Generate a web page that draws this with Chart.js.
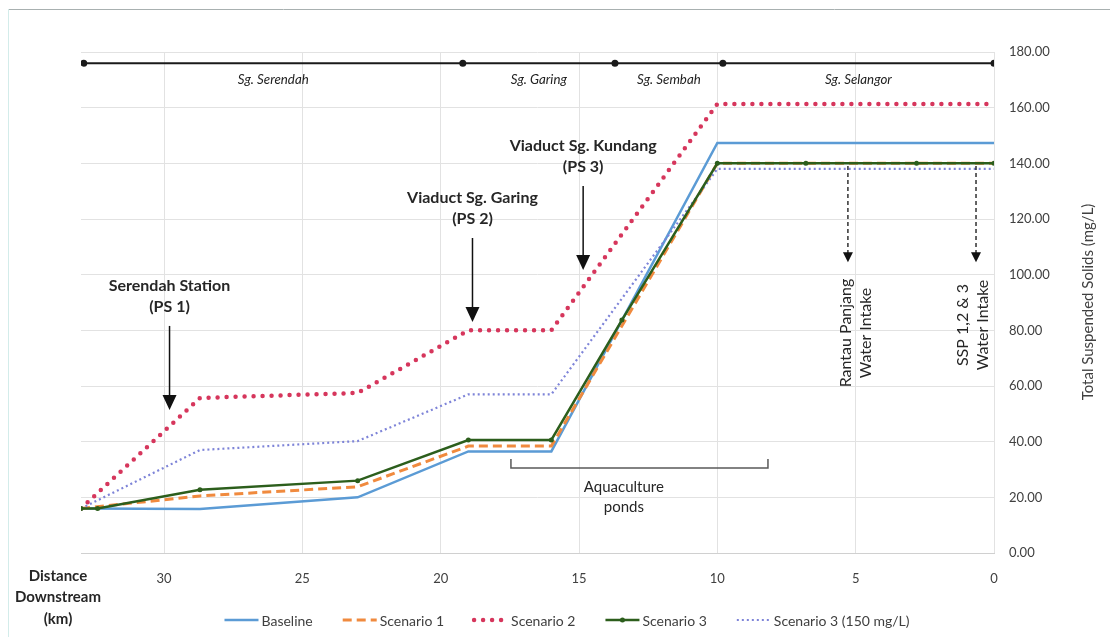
<!DOCTYPE html>
<html>
<head>
<meta charset="utf-8">
<script src="https://cdn.jsdelivr.net/npm/chart.js@4.4.1/dist/chart.umd.min.js"></script>
<style>
  html, body { margin: 0; padding: 0; background: #fff; }
  #wrap { position: relative; width: 1110px; height: 637px; }
</style>
</head>
<body>
<div id="wrap"><canvas id="tss" width="1110" height="637"></canvas></div>
<script>
// distance downstream (km) and TSS (mg/L)
const distX = [33, 28.7, 23, 19, 16, 10, 0];
const baseline = [16, 15.8, 20, 36.5, 36.5, 147.3, 147.3];
const scenario1 = [16, 20.5, 23.8, 38.4, 38.4, 140, 140];
const scenario2 = [16, 55.7, 57.5, 80, 80, 161.3, 161.3];
const scenario3b = [16, 37, 40.2, 57, 57, 138, 138];

const scen3X = [33, 32.4, 28.7, 23, 19, 16, 13.45, 10, 6.8, 2.8, 0];
const scenario3 = [16, 16, 22.7, 26, 40.6, 40.6, 83.7, 140, 140, 140, 140];

const xTicks = [30, 25, 20, 15, 10, 5, 0];

// river reaches along the top
const riverX = [32.9, 19.2, 13.7, 9.8, 0];
const riverY = 176;
const riverNames = ['Sg. Serendah', 'Sg. Garing', 'Sg. Sembah', 'Sg. Selangor'];

const pumpStations = [
  {x: 29.8, tip: 51.4, lines: ['Serendah Station', '(PS 1)']},
  {x: 18.85, tip: 83, lines: ['Viaduct Sg. Garing', '(PS 2)']},
  {x: 14.85, tip: 101.7, lines: ['Viaduct Sg. Kundang', '(PS 3)']},
];
const intakes = [
  {x: 5.28, textX: 5.0, lines: ['Rantau Panjang', 'Water Intake'], mid: 333},
  {x: 0.65, textX: 0.76, lines: ['SSP 1,2 & 3', 'Water Intake'], mid: 325},
];

const FONT = 'Lato, "Open Sans", sans-serif';

function pts(xs, ys) {
  return xs.map((v, i) => ({x: v, y: ys[i]}));
}

function downArrow(ctx, px, yTop, yTip, dashed, hw, hh) {
  ctx.save();
  ctx.strokeStyle = '#111';
  ctx.fillStyle = '#111';
  ctx.lineWidth = dashed ? 1.3 : 1.5;
  ctx.setLineDash(dashed ? [4, 3] : []);
  ctx.beginPath();
  ctx.moveTo(px, yTop);
  ctx.lineTo(px, yTip - hh + 1);
  ctx.stroke();
  ctx.setLineDash([]);
  ctx.beginPath();
  ctx.moveTo(px - hw, yTip - hh);
  ctx.lineTo(px + hw, yTip - hh);
  ctx.lineTo(px, yTip);
  ctx.closePath();
  ctx.fill();
  ctx.restore();
}

const annot = {
  id: 'annot',
  afterDraw(chart) {
    const {ctx, scales: {x, y}} = chart;
    ctx.save();

    // frame
    ctx.strokeStyle = '#a8b0b0';
    ctx.lineWidth = 1;
    ctx.beginPath(); ctx.moveTo(8, 9.5); ctx.lineTo(1110, 9.5); ctx.stroke();
    ctx.strokeStyle = '#d3ecea';
    ctx.beginPath(); ctx.moveTo(8.5, 9); ctx.lineTo(8.5, 637); ctx.stroke();

    // river names
    ctx.fillStyle = '#222';
    ctx.font = 'italic 13.3px ' + FONT;
    ctx.textAlign = 'center';
    ctx.textBaseline = 'middle';
    const ry = y.getPixelForValue(riverY) + 17;
    riverNames.forEach((n, i) => {
      const mx = x.getPixelForValue((riverX[i] + riverX[i + 1]) / 2);
      ctx.fillText(n, mx, ry);
    });

    // pump stations
    ctx.font = 'bold 16px ' + FONT;
    ctx.fillStyle = '#262626';
    pumpStations.forEach(p => {
      const px = x.getPixelForValue(p.x);
      const tip = y.getPixelForValue(p.tip);
      const top = tip - 84;
      downArrow(ctx, px, top, tip, false, 7, 15);
      ctx.fillText(p.lines[1], px, top - 19);
      ctx.fillText(p.lines[0], px, top - 40);
    });

    // water intakes
    ctx.font = '16px ' + FONT;
    intakes.forEach(w => {
      const px = x.getPixelForValue(w.x);
      downArrow(ctx, px, y.getPixelForValue(139), y.getPixelForValue(104.5), true, 5, 10);
      ctx.save();
      ctx.translate(x.getPixelForValue(w.textX), w.mid);
      ctx.rotate(-Math.PI / 2);
      ctx.fillText(w.lines[0], 0, -10);
      ctx.fillText(w.lines[1], 0, 10);
      ctx.restore();
    });

    // aquaculture bracket
    const bx0 = x.getPixelForValue(17.46), bx1 = x.getPixelForValue(8.17);
    const by = y.getPixelForValue(30.5);
    ctx.strokeStyle = '#595959';
    ctx.lineWidth = 1.5;
    ctx.beginPath();
    ctx.moveTo(bx0, by - 9); ctx.lineTo(bx0, by); ctx.lineTo(bx1, by); ctx.lineTo(bx1, by - 9);
    ctx.stroke();
    const ax = x.getPixelForValue(13.38);
    ctx.font = '15px ' + FONT;
    ctx.fillStyle = '#262626';
    ctx.fillText('Aquaculture', ax, by + 19);
    ctx.fillText('ponds', ax, by + 39);

    // axis titles
    ctx.font = 'bold 15px ' + FONT;
    ['Distance', 'Downstream', '(km)'].forEach((t, i) => ctx.fillText(t, 58, 576 + i * 21.5));
    ctx.font = '15px ' + FONT;
    ctx.fillStyle = '#404040';
    ctx.save();
    ctx.translate(1088, 302);
    ctx.rotate(-Math.PI / 2);
    ctx.fillText('Total Suspended Solids (mg/L)', 0, 0);
    ctx.restore();

    // legend
    const items = chart.data.datasets.filter(d => !d.hideLegend);
    ctx.font = '14px ' + FONT;
    const lineW = 34, gap = 30;
    const widths = items.map(d => lineW + 3 + ctx.measureText(d.label).width);
    const total = widths.reduce((a, b) => a + b, 0) + gap * (items.length - 1);
    let lx = 567 - total / 2;
    const ly = 620;
    items.forEach((d, i) => {
      ctx.save();
      ctx.strokeStyle = d.borderColor;
      ctx.lineWidth = d.borderWidth;
      ctx.lineCap = d.borderCapStyle || 'butt';
      ctx.setLineDash(d.borderDash || []);
      ctx.beginPath();
      ctx.moveTo(lx, ly); ctx.lineTo(lx + lineW, ly);
      ctx.stroke();
      if (d.pointRadius > 0) {
        ctx.fillStyle = d.borderColor;
        ctx.beginPath();
        ctx.arc(lx + lineW / 2, ly, d.pointRadius, 0, Math.PI * 2);
        ctx.fill();
      }
      ctx.restore();
      ctx.fillStyle = '#404040';
      ctx.textAlign = 'left';
      ctx.fillText(d.label, lx + lineW + 3, ly + 1);
      lx += widths[i] + gap;
    });

    ctx.restore();
  }
};

new Chart(document.getElementById('tss'), {
  type: 'line',
  data: {
    datasets: [
      {
        label: 'Baseline', data: pts(distX, baseline),
        borderColor: '#5B9BD5', borderWidth: 2.5, pointRadius: 0, order: 4
      },
      {
        label: 'Scenario 1', data: pts(distX, scenario1),
        borderColor: '#F08A3E', borderWidth: 3, borderDash: [9, 5], pointRadius: 0, order: 3
      },
      {
        label: 'Scenario 2', data: pts(distX, scenario2),
        borderColor: '#D6365C', borderWidth: 4.5, borderDash: [0, 9], borderCapStyle: 'round',
        pointRadius: 0, order: 5
      },
      {
        label: 'Scenario 3', data: pts(scen3X, scenario3),
        borderColor: '#2C5E1C', borderWidth: 2.5, pointRadius: 2.5,
        pointBackgroundColor: '#2C5E1C', pointBorderWidth: 0, order: 1
      },
      {
        label: 'Scenario 3 (150 mg/L)', data: pts(distX, scenario3b),
        borderColor: '#7E84D8', borderWidth: 2.2, borderDash: [2, 3], pointRadius: 0, order: 2
      },
      {
        label: 'river', hideLegend: true, data: riverX.map(v => ({x: v, y: riverY})),
        borderColor: '#1a1a1a', borderWidth: 2, pointRadius: 3.5,
        pointBackgroundColor: '#1a1a1a', pointBorderWidth: 0, order: 0
      }
    ]
  },
  options: {
    responsive: false,
    animation: false,
    devicePixelRatio: 1,
    layout: {padding: {left: 81, top: 52, right: 0, bottom: 0}},
    elements: {line: {tension: 0, fill: false}},
    plugins: {legend: {display: false}, tooltip: {enabled: false}},
    scales: {
      x: {
        type: 'linear', reverse: true, min: 0, max: 33,
        afterBuildTicks: s => { s.ticks = xTicks.map(v => ({value: v})); },
        afterFit: s => { s.height = 84; },
        grid: {color: '#e2e2e2', drawTicks: false},
        border: {display: true, color: '#d0d0d0'},
        ticks: {padding: 18, color: '#404040', font: {family: FONT, size: 13}}
      },
      y: {
        position: 'right', min: 0, max: 180,
        afterFit: s => { s.width = 116; },
        grid: {color: '#e2e2e2', drawTicks: false},
        border: {display: false},
        ticks: {
          stepSize: 20, padding: 15, color: '#404040', font: {family: FONT, size: 13},
          callback: v => v.toFixed(2)
        }
      }
    }
  },
  plugins: [annot]
});
</script>
</body>
</html>
